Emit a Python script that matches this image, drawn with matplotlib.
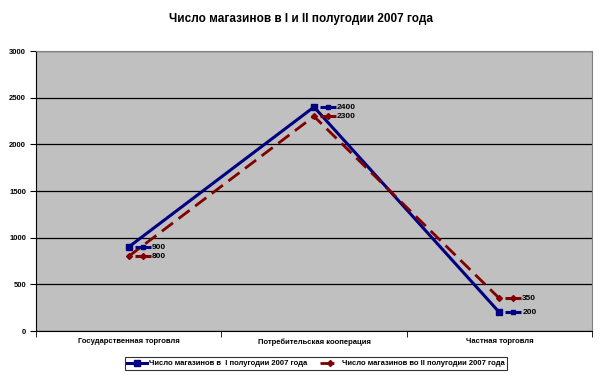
import matplotlib
matplotlib.use('Agg')
import matplotlib.pyplot as plt
import matplotlib.transforms as mtransforms

plt.rcParams['font.family'] = ['Liberation Sans Narrow', 'Liberation Sans', 'DejaVu Sans']

categories = ["Государственная торговля", "Потребительская кооперация", "Частная торговля"]
first_half = [900, 2400, 200]
second_half = [800, 2300, 350]
series_names = ["Число магазинов в  I полугодии 2007 года",
                "Число магазинов во II полугодии 2007 года"]
yticks = [0, 500, 1000, 1500, 2000, 2500, 3000]

fig = plt.figure(figsize=(6.02, 3.75), dpi=100)
ax = fig.add_axes([36 / 602, 1 - 331 / 375, 556 / 602, 280 / 375])
ax.set_facecolor('#C0C0C0')

x = list(range(len(categories)))
navy = '#000080'
maroon = '#800000'

ax.plot(x, first_half, color=navy, lw=2.2, marker='s', ms=4, zorder=3,
        label=series_names[0])
ax.plot(x, second_half, color=maroon, lw=2, ls=(0, (5, 2.5)), marker='D', ms=3,
        zorder=3, label=series_names[1])

# подписи данных со значком ряда
px = 72 / fig.dpi
for vals, col, mk, ms in [(first_half, navy, 's', 3.5), (second_half, maroon, 'D', 3)]:
    for xi, v in zip(x, vals):
        t_key = ax.transData + mtransforms.Affine2D().translate(14, 0)
        ax.plot([xi], [v], transform=t_key, marker='_', ms=16 * px, mew=2.2,
                color=col, zorder=4, clip_on=False)
        ax.plot([xi], [v], transform=t_key, marker=mk, ms=ms, color=col,
                zorder=5, clip_on=False)
        t_txt = ax.transData + mtransforms.Affine2D().translate(23, 0)
        ax.text(xi, v, str(v), transform=t_txt, va='center', ha='left',
                fontsize=6, fontweight='bold', color='black')

ax.set_xlim(-0.5, 2.5)
ax.set_ylim(0, 3000)
ax.set_yticks(yticks)
ax.set_yticklabels([str(t) for t in yticks], fontsize=5.5, fontweight='bold')
ax.set_xticks(x)
ax.set_xticklabels(categories, fontsize=5.5, fontweight='bold')
ax.tick_params(axis='x', length=0, pad=5)
ax.set_xticks([-0.5, 0.5, 1.5, 2.5], minor=True)
ax.tick_params(axis='x', which='minor', length=4, direction='out', color='black')
ax.tick_params(axis='y', length=4, direction='out', pad=3)
ax.yaxis.grid(True, color='black', lw=0.9)
ax.set_axisbelow(True)
for s in ['top', 'right']:
    ax.spines[s].set_color('#808080')
for s in ['left', 'bottom']:
    ax.spines[s].set_color('black')

fig.text(0.5, 1 - 19 / 375, "Число магазинов в I и II полугодии 2007 года",
         ha='center', va='center', fontsize=8.5, fontweight='bold')

leg = fig.legend(loc='center', bbox_to_anchor=(316 / 602, 1 - 363.5 / 375),
                 ncol=2, fontsize=5.5, frameon=True, fancybox=False,
                 edgecolor='black', handlelength=2.6, columnspacing=1.6,
                 borderpad=0.35, handletextpad=0.3, borderaxespad=0)
for t in leg.get_texts():
    t.set_fontweight('bold')
leg.get_frame().set_linewidth(0.8)

fig.savefig('out.png', dpi=100)
